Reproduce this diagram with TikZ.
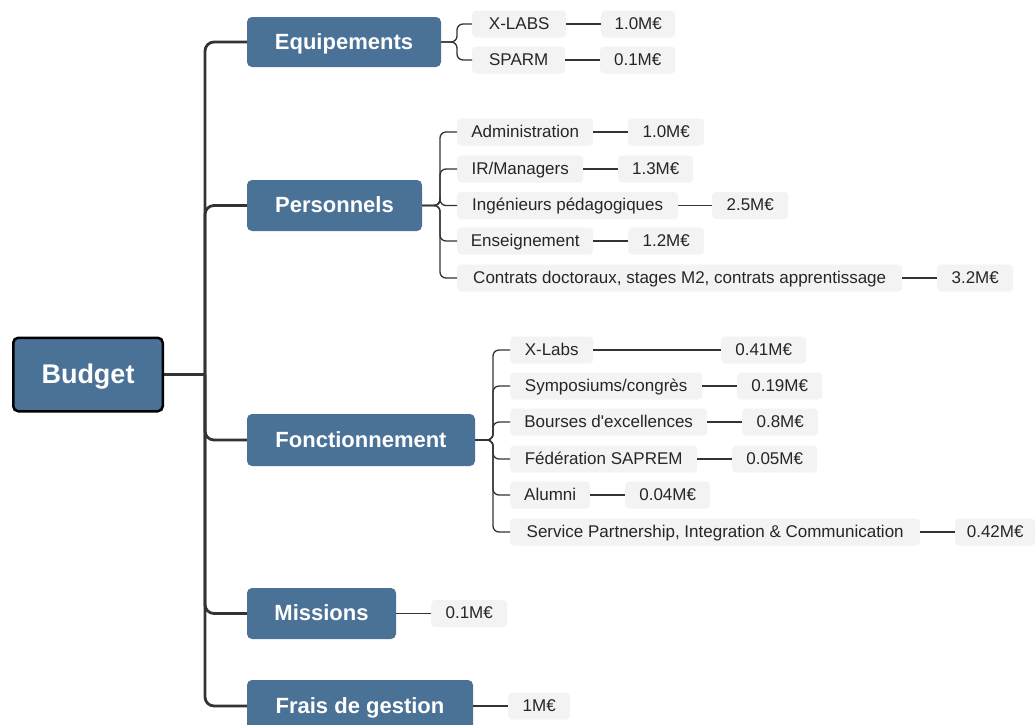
\documentclass[tikz,border=0pt]{standalone}
\usepackage{fontspec}
\setmainfont{Liberation Sans}[Ligatures=TeXOff]
\definecolor{mainblue}{HTML}{4A7196}
\definecolor{leafgray}{HTML}{F3F3F3}
\definecolor{linegray}{HTML}{333333}
\tikzset{
  mainbox/.style={fill=mainblue, rounded corners=5pt, text=white, font=\fontsize{22}{26}\selectfont\bfseries, inner sep=0pt, text height=16pt, text depth=1.5pt},
  rootbox/.style={mainbox, draw=black, line width=2.5pt, font=\fontsize{27}{32}\selectfont\bfseries, minimum height=73.5pt, minimum width=149.5pt, text height=19.5pt, text depth=2pt},
  leaf/.style={fill=leafgray, rounded corners=4pt, font=\fontsize{17}{20}\selectfont, text=black!85, inner sep=0pt, minimum height=27pt, anchor=west, text height=12.3pt, text depth=1.5pt},
  trunk/.style={draw=linegray, line width=2.8pt, rounded corners=9pt},
  twig/.style={draw=linegray, line width=1.3pt, rounded corners=6pt},
}
\begin{document}
\begin{tikzpicture}[x=1pt,y=-1pt]
\useasboundingbox (0,0) rectangle (1035,724);
\clip (0,0) rectangle (1035,724);
\fill[white] (0,0) rectangle (1035,724);
% root and main nodes
\node[rootbox] (budget) at (88,374.5) {Budget};
\node[mainbox, minimum width=194pt, minimum height=50pt] (eq) at (344,42) {Equipements};
\node[mainbox, minimum width=175pt, minimum height=51pt] (pe) at (334.5,205.5) {Personnels};
\node[mainbox, minimum width=228pt, minimum height=52pt] (fo) at (361,440) {Fonctionnement};
\node[mainbox, minimum width=149pt, minimum height=51pt] (mi) at (321.5,613.5) {Missions};
\node[mainbox, minimum width=226pt, minimum height=52pt] (fr) at (360,706) {Frais de gestion};
\coordinate (hub) at (205,374.5);
% trunk
\draw[trunk] (budget.east) -- (hub);
\foreach \c in {eq,pe,fo,mi,fr}{
  \draw[trunk] (hub) |- (\c.west);
}
% Equipements leaves
\node[leaf, minimum width=94pt] (xlabs) at (472,24) {X-LABS};
\node[leaf, minimum width=74pt] (vxlabs) at (601,24) {1.0M€};
\node[leaf, minimum width=93pt] (sparm) at (472,60) {SPARM};
\node[leaf, minimum width=75pt] (vsparm) at (600,60) {0.1M€};
% Personnels leaves
\node[leaf, minimum width=136pt] (adm) at (457,132) {Administration};
\node[leaf, minimum width=76pt] (vadm) at (628,132) {1.0M€};
\node[leaf, minimum width=126pt] (ir) at (457,169) {IR/Managers};
\node[leaf, minimum width=75pt] (vir) at (618,169) {1.3M€};
\node[leaf, minimum width=221pt] (ing) at (457,205.5) {Ingénieurs pédagogiques};
\node[leaf, minimum width=76pt] (ving) at (712,205.5) {2.5M€};
\node[leaf, minimum width=136pt] (ens) at (457,241) {Enseignement};
\node[leaf, minimum width=76pt] (vens) at (628,241) {1.2M€};
\node[leaf, minimum width=445pt] (con) at (457,278) {Contrats doctoraux, stages M2, contrats apprentissage};
\node[leaf, minimum width=76pt] (vcon) at (937,278) {3.2M€};
% Fonctionnement leaves
\node[leaf, minimum width=83pt] (xl) at (510,350) {X-Labs};
\node[leaf, minimum width=85pt] (vxl) at (721,350) {0.41M€};
\node[leaf, minimum width=192pt] (sym) at (510,386) {Symposiums/congrès};
\node[leaf, minimum width=85pt] (vsym) at (737,386) {0.19M€};
\node[leaf, minimum width=197pt] (bou) at (510,422) {Bourses d'excellences};
\node[leaf, minimum width=76pt] (vbou) at (742,422) {0.8M€};
\node[leaf, minimum width=187pt] (fed) at (510,459) {Fédération SAPREM};
\node[leaf, minimum width=85pt] (vfed) at (732,459) {0.05M€};
\node[leaf, minimum width=80pt] (alu) at (510,495) {Alumni};
\node[leaf, minimum width=85pt] (valu) at (625,495) {0.04M€};
\node[leaf, minimum width=410pt] (ser) at (510,532) {Service Partnership, Integration \& Communication};
\node[leaf, minimum width=80pt] (vser) at (955,532) {0.42M€};
% Missions, Frais
\node[leaf, minimum width=76pt] (vmi) at (431,613.5) {0.1M€};
\node[leaf, minimum width=62pt] (vfr) at (508,706) {1M€};
% brackets
\coordinate (beq) at (457,42);
\coordinate (bpe) at (440,205.5);
\coordinate (bfo) at (493,440);
\foreach \c in {xlabs,sparm}{ \draw[twig] (eq.east) -- (beq) |- (\c.west); }
\foreach \c in {adm,ir,ing,ens,con}{ \draw[twig] (pe.east) -- (bpe) |- (\c.west); }
\foreach \c in {xl,sym,bou,fed,alu,ser}{ \draw[twig] (fo.east) -- (bfo) |- (\c.west); }
% leaf to value
\foreach \a/\b in {xlabs/vxlabs,sparm/vsparm,adm/vadm,ir/vir,ing/ving,ens/vens,con/vcon,xl/vxl,sym/vsym,bou/vbou,fed/vfed,alu/valu,ser/vser,mi/vmi,fr/vfr}{
  \draw[twig] (\a.east) -- (\b.west);
}
\end{tikzpicture}
\end{document}
